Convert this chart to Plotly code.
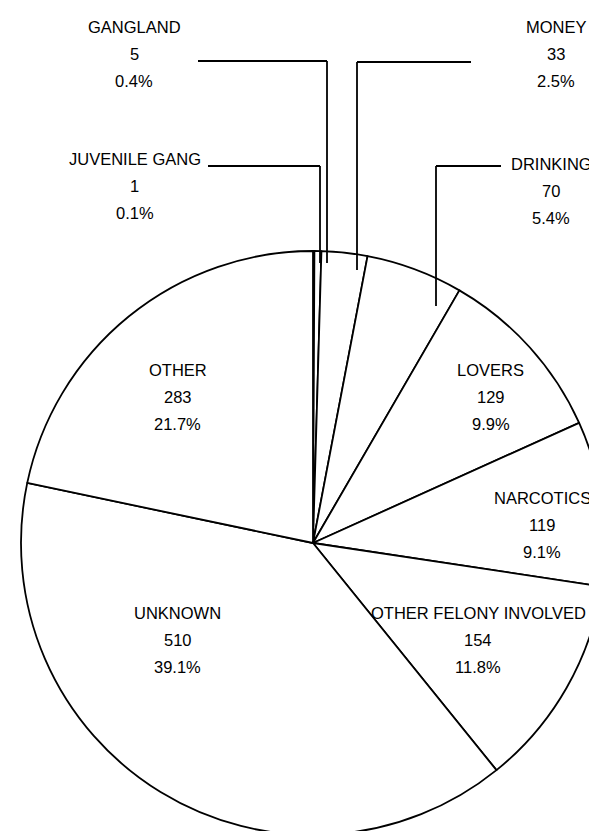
import plotly.graph_objects as go

W, H = 597, 831

# motifs d'homicide (sens horaire depuis midi)
categories = ["JUVENILE GANG", "GANGLAND", "MONEY", "DRINKING", "LOVERS",
              "NARCOTICS", "OTHER FELONY INVOLVED", "UNKNOWN", "OTHER"]
counts = [1, 5, 33, 70, 129, 119, 154, 510, 283]
percents = ["0.1%", "0.4%", "2.5%", "5.4%", "9.9%", "9.1%", "11.8%", "39.1%", "21.7%"]

# position des étiquettes (centre x, y de la première ligne), en pixels
label_pos = {
    "GANGLAND": (126, 19),
    "JUVENILE GANG": (127, 151),
    "MONEY": (548, 19),
    "DRINKING": (543, 156),
    "LOVERS": (483, 362),
    "OTHER": (170, 362),
    "NARCOTICS": (534, 490),
    "OTHER FELONY INVOLVED": (470, 605),
    "UNKNOWN": (170, 605),
}

# traits de rappel pour les petites parts
leaders = {
    "GANGLAND": [(190, 53), (319, 53), (319, 255)],
    "JUVENILE GANG": [(200, 158), (312, 158), (312, 255)],
    "MONEY": [(463, 54), (349, 54), (349, 262)],
    "DRINKING": [(493, 158), (428, 158), (428, 298)],
}


def px(x):
    return x / W


def py(y):
    return 1 - y / H


fig = go.Figure()

fig.add_trace(go.Pie(
    labels=categories,
    values=counts,
    sort=False,
    direction="clockwise",
    rotation=0,
    textinfo="none",
    hoverinfo="label+value+percent",
    marker=dict(colors=["white"] * len(counts), line=dict(color="black", width=1.8)),
    domain=dict(x=[13 / W, 1.0], y=[4 / H, 588 / H]),
    showlegend=False,
))

font = dict(family="Liberation Sans, Arial", size=16.5, color="black")
step = 27
for cat, n, pct in zip(categories, counts, percents):
    x, y = label_pos[cat]
    for i, line in enumerate([cat, str(n), pct]):
        fig.add_annotation(
            x=px(x), y=py(y + i * step), xref="paper", yref="paper",
            text=line, showarrow=False, font=font,
            xanchor="center", yanchor="middle",
        )

for cat, pts in leaders.items():
    for (x0, y0), (x1, y1) in zip(pts[:-1], pts[1:]):
        fig.add_shape(
            type="line", xref="paper", yref="paper",
            x0=px(x0), y0=py(y0), x1=px(x1), y1=py(y1),
            line=dict(color="black", width=1.8),
        )

fig.update_layout(
    width=W, height=H,
    margin=dict(l=0, r=0, t=0, b=0),
    paper_bgcolor="white",
    plot_bgcolor="white",
)

fig.write_html("out.html")
